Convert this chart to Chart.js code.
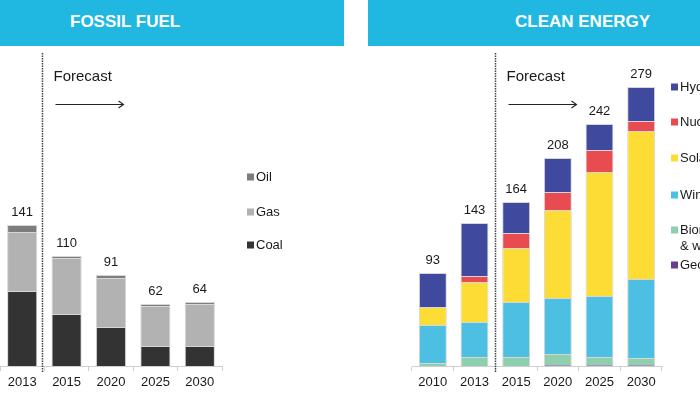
<!DOCTYPE html>
<html>
<head>
<meta charset="utf-8">
<script src="https://cdn.jsdelivr.net/npm/chart.js@4.4.0/dist/chart.umd.min.js"></script>
<style>
body { margin: 0; width: 700px; height: 393px; overflow: hidden; background: #fff; position: relative; font-family: "Liberation Sans", Arial, sans-serif; }
.banner { position: absolute; top: 0; height: 46px; background: #20b8e1; color: #fff; font-weight: bold; font-size: 17px; line-height: 20px; }
.banner span { position: absolute; top: 12px; white-space: nowrap; }
canvas { position: absolute; top: 0; }
</style>
</head>
<body>
<div class="banner" style="left:0;width:344px"><span style="left:70px">FOSSIL FUEL</span></div>
<div class="banner" style="left:368px;width:332px"><span style="left:147px">CLEAN ENERGY</span></div>
<canvas id="fossil" width="350" height="393" style="left:0"></canvas>
<canvas id="clean" width="350" height="393" style="left:350px"></canvas>
<script>
// fossil fuel panel
var years = ['2013', '2015', '2020', '2025', '2030'];
var coal = [75, 52, 39, 20, 20];
var gas = [59, 56, 49, 40, 42];
var oil = [7, 2, 3, 2, 2];
var fossilTotals = [141, 110, 91, 62, 64];

// clean energy panel
var cleanYears = ['2010', '2013', '2015', '2020', '2025', '2030'];
var geothermal = [0, 0, 0, 1, 1, 1];
var biomass = [3, 9, 9, 11, 8, 7];
var wind = [38, 35, 55, 56, 61, 79];
var solar = [18, 40, 54, 88, 124, 148];
var nuclear = [0, 6, 15, 18, 22, 10];
var hydro = [34, 53, 31, 34, 26, 34];
var cleanTotals = [93, 143, 164, 208, 242, 279];

var FONT = '"Liberation Sans", Arial, sans-serif';

// totals above each stack
var totalsPlugin = {
    id: 'totals',
    afterDatasetsDraw: function (chart, args, opts) {
        var ctx = chart.ctx;
        var top = chart.getDatasetMeta(chart.data.datasets.length - 1);
        ctx.save();
        ctx.font = '13px ' + FONT;
        ctx.fillStyle = '#1a1a1a';
        ctx.textAlign = 'center';
        ctx.textBaseline = 'bottom';
        opts.values.forEach(function (v, i) {
            var bar = top.data[i];
            ctx.fillText(v, bar.x, bar.y - 6);
        });
        ctx.restore();
    }
};

// dashed divider + "Forecast" arrow
var forecastPlugin = {
    id: 'forecast',
    afterDraw: function (chart, args, opts) {
        var ctx = chart.ctx;
        var xs = chart.scales.x;
        var x = Math.round((xs.getPixelForValue(opts.after) + xs.getPixelForValue(opts.after + 1)) / 2) - opts.shift + 0.5;
        ctx.save();
        ctx.strokeStyle = '#444';
        ctx.lineWidth = 1.5;
        ctx.setLineDash([1.5, 1]);
        ctx.beginPath();
        ctx.moveTo(x, 53);
        ctx.lineTo(x, 372);
        ctx.stroke();
        ctx.setLineDash([]);

        ctx.font = '15px ' + FONT;
        ctx.fillStyle = '#1a1a1a';
        ctx.textBaseline = 'middle';
        ctx.fillText('Forecast', x + 11, 77);

        ctx.strokeStyle = '#222';
        ctx.lineWidth = 1.1;
        ctx.beginPath();
        ctx.moveTo(x + 13, 104.5);
        ctx.lineTo(x + 81, 104.5);
        ctx.moveTo(x + 76, 101);
        ctx.lineTo(x + 81, 104.5);
        ctx.lineTo(x + 76, 108);
        ctx.stroke();
        ctx.restore();
    }
};

// hand placed legend, top item = last dataset
var legendPlugin = {
    id: 'sideLegend',
    afterDraw: function (chart, args, opts) {
        var ctx = chart.ctx;
        var sets = chart.data.datasets.slice().reverse();
        ctx.save();
        ctx.font = '13px ' + FONT;
        ctx.textBaseline = 'middle';
        sets.forEach(function (ds, i) {
            var y = opts.ys[i];
            ctx.fillStyle = ds.backgroundColor;
            ctx.fillRect(opts.x, y - 3.5, 7, 7);
            ctx.fillStyle = '#1a1a1a';
            ds.label.split('\n').forEach(function (line, k) {
                ctx.fillText(line, opts.x + 9, y + k * 16);
            });
        });
        ctx.restore();
    }
};

function xAxis() {
    return {
        stacked: true,
        afterFit: function (scale) { scale.height = 27; },
        grid: { display: true, drawOnChartArea: false, drawTicks: true, tickLength: 5, color: '#cfcfcf' },
        border: { display: true, color: '#cfcfcf' },
        ticks: { color: '#1a1a1a', padding: 4, font: { family: FONT, size: 13 } }
    };
}

function bw(c) { return c.raw === 0 ? 0 : 1; }

var ctxF = document.getElementById('fossil').getContext('2d');
var fossilChart = new Chart(ctxF, {
    type: 'bar',
    data: {
        labels: years,
        datasets: [
            { label: 'Coal', data: coal, backgroundColor: '#333333' },
            { label: 'Gas', data: gas, backgroundColor: '#b2b2b2' },
            { label: 'Oil', data: oil, backgroundColor: '#7d7d7d' }
        ]
    },
    options: {
        responsive: false,
        animation: false,
        layout: { padding: { left: 0, right: 128, top: 66, bottom: 0 } },
        datasets: { bar: { barPercentage: 0.68, categoryPercentage: 1, borderColor: '#d6d6d6', borderWidth: bw } },
        scales: {
            x: xAxis(),
            y: { stacked: true, display: false, min: 0, max: 300 }
        },
        plugins: {
            legend: { display: false },
            tooltip: { enabled: false },
            totals: { values: fossilTotals },
            forecast: { after: 0, shift: 2 },
            sideLegend: { x: 247, ys: [177, 212, 245] }
        }
    },
    plugins: [totalsPlugin, forecastPlugin, legendPlugin]
});

var ctxC = document.getElementById('clean').getContext('2d');
var cleanChart = new Chart(ctxC, {
    type: 'bar',
    data: {
        labels: cleanYears,
        datasets: [
            { label: 'Geothermal', data: geothermal, backgroundColor: '#6b3f8f' },
            { label: 'Biomass\n& waste', data: biomass, backgroundColor: '#8ecfad' },
            { label: 'Wind', data: wind, backgroundColor: '#4cbfe3' },
            { label: 'Solar', data: solar, backgroundColor: '#fddc36' },
            { label: 'Nuclear', data: nuclear, backgroundColor: '#e84c50' },
            { label: 'Hydro', data: hydro, backgroundColor: '#3f4a9f' }
        ]
    },
    options: {
        responsive: false,
        animation: false,
        layout: { padding: { left: 62, right: 38, top: 66, bottom: 0 } },
        datasets: { bar: { barPercentage: 0.67, categoryPercentage: 1, borderColor: '#d6d6d6', borderWidth: bw } },
        scales: {
            x: xAxis(),
            y: { stacked: true, display: false, min: 0, max: 300 }
        },
        plugins: {
            legend: { display: false },
            tooltip: { enabled: false },
            totals: { values: cleanTotals },
            forecast: { after: 1, shift: 0 },
            sideLegend: { x: 321, ys: [87, 122, 158, 195, 230, 265] }
        }
    },
    plugins: [totalsPlugin, forecastPlugin, legendPlugin]
});
</script>
</body>
</html>
